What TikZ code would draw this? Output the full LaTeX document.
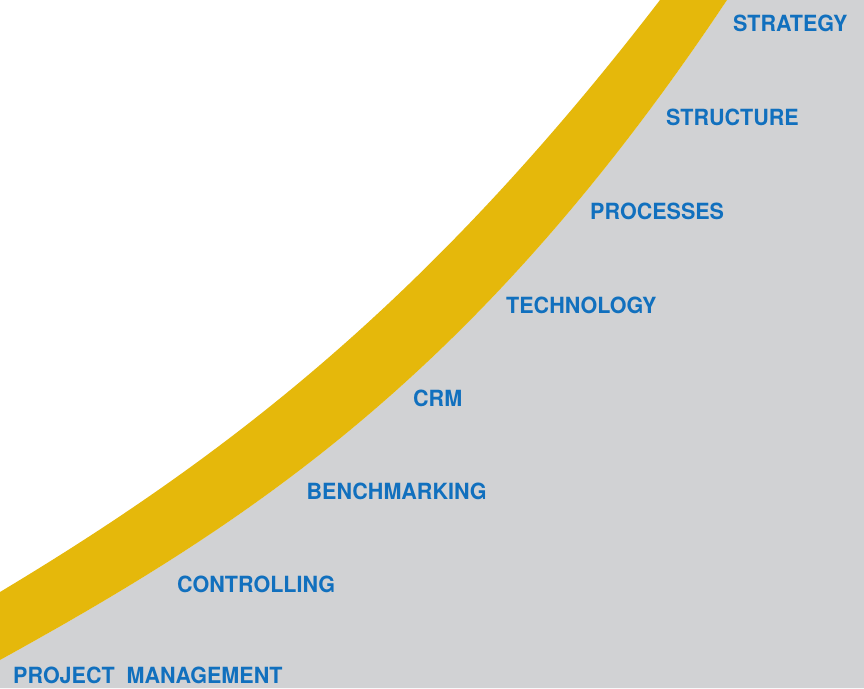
\documentclass[tikz,border=0pt]{standalone}
\usepackage{fontspec}
\setsansfont{TeX Gyre Heros}[FakeStretch=0.965]
\usepackage{tikz}
\usetikzlibrary{positioning}
\definecolor{bandyellow}{RGB}{229,184,11}
\definecolor{areagray}{RGB}{209,210,212}
\definecolor{termblue}{RGB}{17,112,190}

\begin{document}
\begin{tikzpicture}[x=1pt,y=-1pt,
                    term node/.style={anchor=base west,inner sep=0pt,text=termblue,
                      font=\sffamily\bfseries\fontsize{22.3}{24}\selectfont}]
  \useasboundingbox (0,0) rectangle (864,688);
  \fill[white] (0,0) rectangle (864,688);

  % grey area under the curve
  \fill[areagray] (0,660) .. controls (250,522) and (477,375) .. (727,0)
    -- (864,0) -- (864,688) -- (0,688) -- cycle;
  % yellow band
  \fill[bandyellow] (0,592) .. controls (230,454) and (430,299) .. (660,0)
    -- (727,0) .. controls (477,375) and (250,522) .. (0,660) -- cycle;

  \node[term node] (strategy)   at (733,31.7)  {STRATEGY};
  \node[term node] (structure)  at (666,125.5) {STRUCTURE};
  \node[term node] (processes)  at (590,219)   {PROCESSES};
  \node[term node] (technology) at (506,313)   {TECHNOLOGY};
  \node[term node] (crm)        at (413,406.7) {CRM};
  \node[term node] (benchmark)  at (306.5,499) {BENCHMARKING};
  \node[term node] (controlling) at (177,592)  {CONTROLLING};
  \node[term node] (projectmgmt) at (13,683)   {PROJECT\ \ MANAGEMENT};
\end{tikzpicture}
\end{document}
